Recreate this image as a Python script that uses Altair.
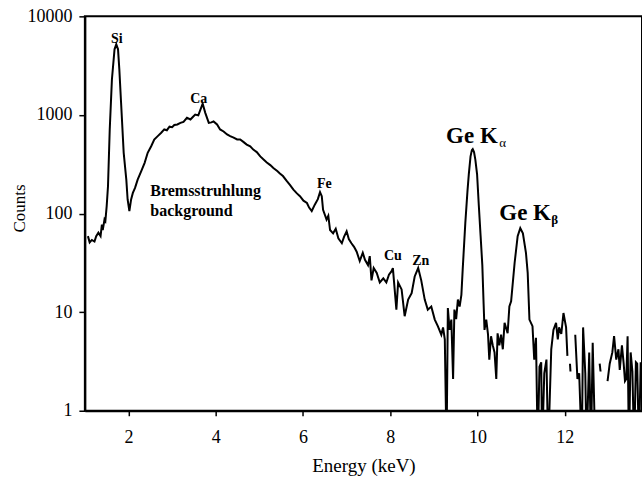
import altair as alt
import pandas as pd

# ---- spectrum; 0 = zero counts, None = break in trace ----
energy_kev = [
    1.07, 1.11, 1.16, 1.22, 1.26, 1.31, 1.36, 1.39, 1.41, 1.45,
    1.47, 1.50, 1.53, 1.57, 1.62, 1.68, 1.72, 1.76, 1.79, 1.83,
    1.89, 1.95, 1.98, 2.02, 2.06, 2.10, 2.15, 2.21, 2.29, 2.37,
    2.44, 2.52, 2.59, 2.67, 2.75, 2.82, 2.88, 2.94, 3.00, 3.05,
    3.12, 3.19, 3.26, 3.34, 3.42, 3.48, 3.53, 3.60, 3.70, 3.76,
    3.84, 3.90, 3.95, 4.03, 4.10, 4.18, 4.26, 4.33, 4.41, 4.49,
    4.56, 4.64, 4.71, 4.79, 4.86, 4.94, 5.02, 5.09, 5.17, 5.25,
    5.32, 5.41, 5.47, 5.54, 5.63, 5.70, 5.78, 5.86, 5.93, 6.01,
    6.09, 6.14, 6.20, 6.27, 6.34, 6.39, 6.43, 6.46, 6.54, 6.58,
    6.62, 6.69, 6.75, 6.81, 6.89, 6.94, 7.00, 7.05, 7.11, 7.17,
    7.23, 7.30, 7.37, 7.42, 7.49, 7.53, 7.57, 7.62, 7.69, 7.76,
    7.84, 7.91, 7.97, 8.03, 8.06, 8.14, 8.18, 8.26, 8.33, 8.41,
    8.49, 8.56, 8.64, 8.71, 8.79, 8.86, 8.94, 9.02, 9.09, 9.17,
    9.21, 9.25, 9.29, 9.32, 9.36, 9.40, 9.44, 9.47, 9.51, 9.55,
    9.59, 9.63, 9.66, 9.72, 9.77, 9.80, 9.84, 9.87, 9.89, 9.92,
    9.95, 9.99, 10.03, 10.07, 10.11, 10.14, 10.16, 10.20, 10.24, 10.27,
    10.31, 10.35, 10.39, 10.43, 10.46, 10.50, 10.54, 10.58, 10.62, 10.69,
    10.73, 10.77, 10.85, 10.92, 10.98, 11.04, 11.11, 11.15, 11.19, 11.26,
    11.30, 11.34, 11.38, 11.42, 11.46, 11.48, 11.53, 11.58, 11.62, 11.69,
    11.74, 11.80, 11.84, 11.87, 11.92, 11.97, 12.03, 12.06, 12.09, 12.12,
    12.13, 12.18, 12.24, 12.29, 12.33, 12.39, 12.42, 12.47, 12.50, 12.56,
    12.60, 12.64, 12.70, 12.75, 12.80, 12.82, 12.90, 12.98, 13.03, 13.09,
    13.13, 13.18, 13.23, 13.26, 13.31, 13.35, 13.38, 13.41, 13.44, 13.47,
    13.51, 13.55, 13.59, 13.63, 13.66, 13.70, 13.74,
]
counts = [
    59, 51, 54, 52, 59, 64, 59, 77, 68, 87,
    84, 119, 189, 713, 2290, 4630, 5200, 4630, 2900, 1330,
    413, 221, 139, 106, 139, 162, 182, 221, 268, 327,
    413, 482, 564, 610, 660, 713, 700, 760, 750, 790,
    800, 830, 850, 935, 900, 960, 1010, 990, 1300, 1050,
    830, 840, 860, 800, 713, 680, 634, 610, 590, 564,
    564, 530, 500, 480, 445, 420, 380, 355, 330, 310,
    290, 270, 255, 240, 213, 195, 175, 160, 150, 135,
    128, 115, 106, 123, 140, 165, 150, 109, 87, 95,
    68, 63, 70, 56, 50, 58, 66, 55, 50, 46,
    41, 33, 40, 34, 30, 37, 21, 28, 25, 20,
    22, 20, 24, 26, 28, 10.6, 20, 17, 9.1, 13.4,
    15.6, 23, 28, 21, 13.4, 10.6, 11.4, 8.4, 7.2, 5.9,
    7, 5.3, 0, 11, 6.6, 8.4, 2.1, 10.6, 8.5, 13.4,
    11.4, 15, 27, 80, 170, 250, 380, 440, 450, 420,
    353, 250, 120, 60, 30, 12, 6.6, 8.4, 6, 3.3,
    5.7, 4.6, 3.9, 2.1, 6.1, 4.6, 5.9, 4.2, 7.8, 6.1,
    11.4, 12.9, 31.5, 59, 71, 63, 40, 25, 8.4, 7.2,
    3.3, 5.5, 0, 2.8, 3.1, 0, 2.4, 3.3, 0, 4.2,
    6.6, 7.8, 5.3, 7, 6, 9.8, 7, 3.6, None, 3.0,
    2.5, None, 5.9, 2.1, 2.4, 0, 7, 2.4, 0, 3.9,
    0, 4.9, 0, None, 3.0, 2.5, None, 2.0, 3.0, 3.9,
    5.7, 3.3, 4.2, 2.6, 4.6, 3.0, 2.0, 2.1, 5.7, 0,
    3.9, 2.5, 0, 3.1, 3.0, 0, 3.1,
]

x_ticks = [2, 4, 6, 8, 10, 12]
y_ticks = [1, 10, 100, 1000, 10000]

# ---- annotations ----
small_labels = ["Si", "Ca", "Fe", "Cu", "Zn"]
small_x = [1.73, 3.61, 6.49, 8.06, 8.70]
small_y = [5330, 1315, 181, 33.8, 30.1]

brems_labels = ["Bremsstruhlung", "background"]
brems_x = [2.50, 2.50]
brems_y = [150, 94]

ge_labels = ["Ge K", "Ge K"]
ge_x = [9.28, 10.50]
ge_y = [521, 86]

alpha_labels = ["α"]
alpha_x = [10.50]
alpha_y = [471]

beta_labels = ["β"]
beta_x = [11.69]
beta_y = [78]

# ---- build table: segments separated by None, zero counts drawn below the axis ----
rows = []
seg = 0
for e, c in zip(energy_kev, counts):
    if c is None:
        seg += 1
        continue
    rows.append({"energy": e, "counts": c if c > 0 else 0.4, "seg": seg})
df = pd.DataFrame(rows)

SERIF = "Liberation Serif"

xscale = alt.Scale(domain=[1.0, 13.77], nice=False, zero=False)
yscale = alt.Scale(type="log", domain=[1, 10000], nice=False)

x_axis = alt.Axis(
    values=x_ticks, title="Energy (keV)", grid=False,
    domainColor="black", domainWidth=2, tickColor="black", tickWidth=1.5, tickSize=5,
    labelFont=SERIF, labelFontSize=18, labelColor="black", labelPadding=13,
    titleFont=SERIF, titleFontSize=19, titleFontWeight="normal", titleColor="black",
    titleY=61, titleBaseline="alphabetic",
)
y_axis = alt.Axis(
    values=y_ticks, format="d", title="Counts", grid=False,
    domainColor="black", domainWidth=2, tickColor="black", tickWidth=1.5, tickSize=6,
    labelFont=SERIF, labelFontSize=18, labelColor="black", labelPadding=7,
    titleFont=SERIF, titleFontSize=17, titleFontWeight="normal", titleColor="black",
    titleX=-60, titleY=192, titleBaseline="alphabetic",
)

line = alt.Chart(df).mark_line(color="black", strokeWidth=2, clip=True).encode(
    x=alt.X("energy:Q", scale=xscale, axis=x_axis),
    y=alt.Y("counts:Q", scale=yscale, axis=y_axis),
    detail="seg:N",
)


def text_layer(labels, xs, ys, size, weight, align):
    d = pd.DataFrame({"label": labels, "energy": xs, "counts": ys})
    return alt.Chart(d).mark_text(
        font=SERIF, fontSize=size, fontWeight=weight, color="black",
        align=align, baseline="alphabetic",
    ).encode(
        x=alt.X("energy:Q", scale=xscale),
        y=alt.Y("counts:Q", scale=yscale),
        text="label:N",
    )


chart = alt.layer(
    line,
    text_layer(small_labels, small_x, small_y, 14, "bold", "center"),
    text_layer(brems_labels, brems_x, brems_y, 16, "bold", "left"),
    text_layer(ge_labels, ge_x, ge_y, 23, "bold", "left"),
    text_layer(alpha_labels, alpha_x, alpha_y, 13, "normal", "left"),
    text_layer(beta_labels, beta_x, beta_y, 13, "bold", "left"),
).properties(
    width=558, height=395,
    padding={"left": 85, "top": 16, "right": 0, "bottom": 70},
    autosize=alt.AutoSizeParams(type="none"),
    background="white",
).configure_view(stroke="black", strokeWidth=2)

chart.save("out.html", embed_options={"renderer": "svg", "actions": False})
